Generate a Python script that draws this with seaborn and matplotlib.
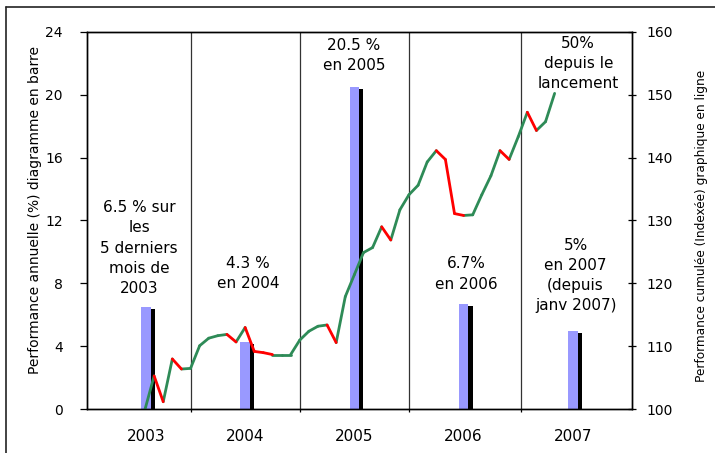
import numpy as np
import pandas as pd
import matplotlib
matplotlib.use("Agg")
import matplotlib.pyplot as plt
import matplotlib.patheffects as pe
from matplotlib.lines import Line2D
import seaborn as sns

# ---------------- data ----------------
years = ["2003", "2004", "2005", "2006", "2007"]
bar_months = [7.1, 18, 30, 42, 54]          # month index (0 = start of 2003)
annual_perf = [6.5, 4.3, 20.5, 6.7, 5.0]    # %

year_edges = [12, 24, 36, 48.3]

months = list(range(7, 53))                 # end of Jul 2003 .. end of Apr 2007
cumul_index = [
    100.0, 105.3, 101.2, 108.0, 106.4, 106.5,                                   # 2003
    110.1, 111.3, 111.7, 111.9, 110.7, 113.0, 109.2, 109.0, 108.7, 108.7, 108.7, 111.0,  # 2004
    112.4, 113.2, 113.4, 110.6, 117.9, 121.4, 124.9, 125.7, 129.0, 126.9, 131.7, 134.1,  # 2005
    135.6, 139.3, 141.1, 139.7, 131.1, 130.8, 130.9, 134.1, 137.1, 141.1, 139.7, 143.3,  # 2006
    147.2, 144.3, 145.7, 150.2,                                                  # 2007
]

notes = [
    "6.5 % sur\nles\n5 derniers\nmois de\n2003",
    "4.3 %\nen 2004",
    "20.5 %\nen 2005",
    "6.7%\nen 2006",
    "5%\nen 2007\n(depuis\njanv 2007)",
    "50%\ndepuis le\nlancement",
]
note_pos = [(6.35, 10.25), (18.3, 8.66), (29.96, 22.5), (42.3, 8.6), (54.3, 8.5), (54.6, 21.95)]

left_label = "Performance annuelle (%) diagramme en barre"
right_label = "Performance cumulée (Indexée) graphique en ligne"

# ---------------- style ----------------
sns.set_style("white")
plt.rcParams["font.family"] = ["DejaVu Sans"]
plt.rcParams["text.color"] = "black"
plt.rcParams["axes.edgecolor"] = "black"

W, H = 715, 453
fig = plt.figure(figsize=(W / 100, H / 100), dpi=100)
ax = fig.add_axes([86.5 / W, (H - 409.3) / H, (632 - 86.5) / W, (409.3 - 31.7) / H])

# bars with black drop shadow
bars = ax.bar(bar_months, annual_perf, width=1.065, color="#9999FF", linewidth=0, zorder=2)
for b in bars:
    b.set_path_effects([pe.SimplePatchShadow(offset=(3.0, -1.7), shadow_rgbFace="black", alpha=1.0),
                        pe.Normal()])

ax.set_ylim(0, 24)
ax.set_yticks(np.arange(0, 25, 4))
ax.set_xlim(0.57, 60.5)
ax.set_xticks(year_edges, labels=[""] * len(year_edges))
ax.set_xticks(bar_months, labels=years, minor=True)
ax.grid(axis="x", which="major", color="#333333", lw=0.9)
ax.grid(axis="y", visible=False)
ax.set_axisbelow(True)
ax.tick_params(axis="x", which="major", direction="out", length=2.5, width=0.9, bottom=True, color="black")
ax.tick_params(axis="x", which="minor", length=0, pad=14.5, labelsize=11, labelcolor="black")
ax.tick_params(axis="y", left=True, direction="out", length=5, width=0.9, pad=12, labelsize=10,
               labelcolor="black", color="black")
for s in ax.spines.values():
    s.set_color("black")
    s.set_linewidth(1.0)

# line on secondary axis, red when falling, green when rising
ax2 = ax.twinx()
rows = []
for i in range(len(months) - 1):
    sens = "baisse" if cumul_index[i + 1] < cumul_index[i] else "hausse"
    rows.append((months[i], cumul_index[i], i, sens))
    rows.append((months[i + 1], cumul_index[i + 1], i, sens))
seg_df = pd.DataFrame(rows, columns=["mois", "indice", "segment", "sens"])
sns.lineplot(data=seg_df, x="mois", y="indice", hue="sens", units="segment", estimator=None,
             palette={"hausse": "#2E8B57", "baisse": "#FF0000"}, linewidth=2, legend=False,
             ax=ax2, solid_capstyle="round", sort=False)
ax2.set_xlabel("")
ax2.set_ylabel("")
ax2.set_ylim(100, 160)
ax2.set_yticks(np.arange(100, 161, 10))
ax2.set_xlim(0.57, 60.5)
ax2.tick_params(axis="y", right=True, direction="inout", length=6, width=0.9, pad=7.5, labelsize=10,
                labelcolor="black", color="black")
for s in ax2.spines.values():
    s.set_color("black")
    s.set_linewidth(1.0)

# annotations
for txt, (xm, yv) in zip(notes, note_pos):
    ax.text(xm, yv, txt, ha="center", va="center", multialignment="center", fontsize=11,
            linespacing=1.42, zorder=5)

fig.text(35 / W, 1 - 210 / H, left_label, rotation=90, ha="center", va="center", fontsize=10)
fig.text(701 / W, 1 - 225.5 / H, right_label, rotation=90, ha="center", va="center", fontsize=8.7)

# outer frame (left and top edges visible)
fig.add_artist(Line2D([6 / W, 6 / W], [0, 1 - 6.5 / H], transform=fig.transFigure, color="#222222", lw=1.2))
fig.add_artist(Line2D([6 / W, 1], [1 - 6.5 / H, 1 - 6.5 / H], transform=fig.transFigure, color="#222222", lw=1.2))

fig.savefig("out.png", dpi=100)
